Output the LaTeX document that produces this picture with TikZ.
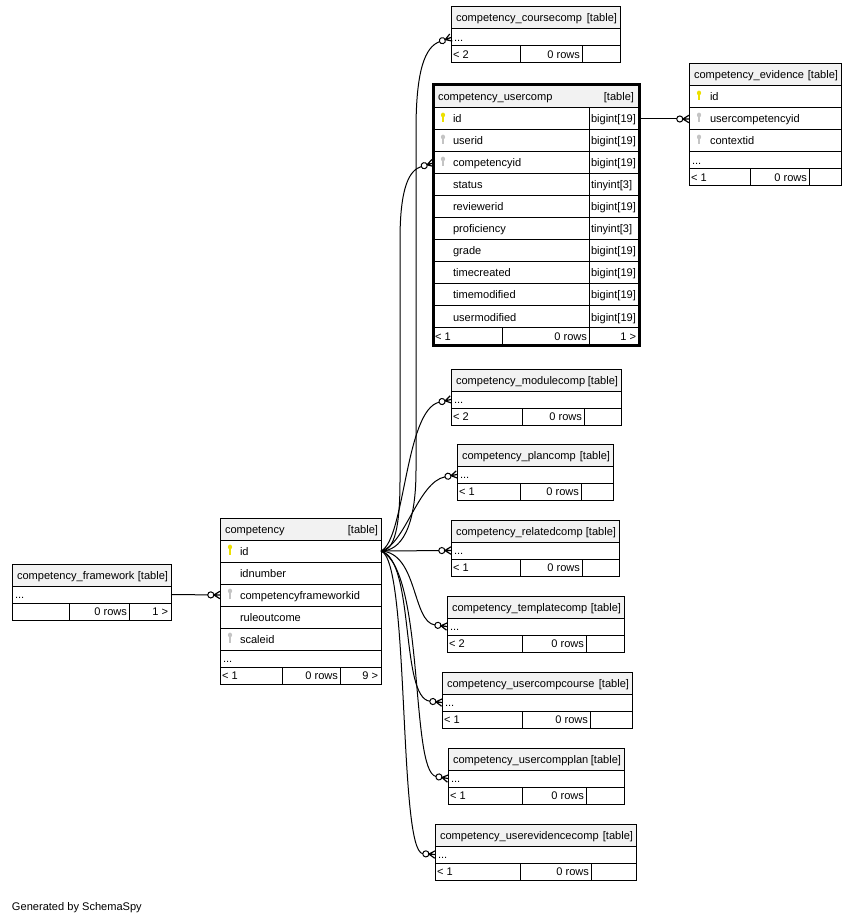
\documentclass[tikz,border=0pt]{standalone}
\usepackage{fontspec}
\setmainfont{Liberation Sans}
\usetikzlibrary{fit}
\definecolor{hdrgray}{HTML}{F2F2F2}
\definecolor{pkyellow}{HTML}{EDE000}
\definecolor{fkgray}{HTML}{C4C4C4}
\newcommand\tabfont{\fontsize{8.3}{9.9}\selectfont}

\pgfdeclarearrow{
  name=CrowO,
  setup code={
    \pgfarrowssettipend{0pt}
    \pgfarrowssetlineend{-9.1pt}
    \pgfarrowssetbackend{-9.5pt}
  },
  drawing code={
    \pgfsetdash{}{0pt}
    \pgfsetlinewidth{0.9pt}
    \pgfpathmoveto{\pgfpoint{0pt}{2.8pt}}
    \pgfpathlineto{\pgfpoint{-4.6pt}{0pt}}
    \pgfpathlineto{\pgfpoint{0pt}{-2.8pt}}
    \pgfpathmoveto{\pgfpoint{0pt}{0pt}}
    \pgfpathlineto{\pgfpoint{-4.6pt}{0pt}}
    \pgfusepathqstroke
    \pgfsetlinewidth{0.75pt}
    \pgfpathcircle{\pgfpoint{-6.9pt}{0pt}}{2.3pt}
    \pgfusepathqstroke
  },
}

\tikzset{
  cellbox/.style={draw=black, line width=0.75pt, inner sep=0pt, outer sep=0pt},
  hdr/.style={cellbox, fill=hdrgray},
  txt/.style={inner sep=0pt, outer sep=0pt, font=\tabfont, text=black, text height=6pt, text depth=0pt},
  conn/.style={draw=black, line width=0.75pt, -CrowO},
  boldframe/.style={draw=black, line width=2.25pt, inner sep=0pt, outer sep=0pt},
}

\newcommand\tcell[6]{\node[#6, fit={(#2,#3)(#4,#5)}] (#1) {};}
\newcommand\tleft[3]{\node[txt, anchor=west, xshift=#2*0.75pt] (#1-l) at (#1.west) {#3};}
\newcommand\tright[3]{\node[txt, anchor=east, xshift=-#2*0.75pt] (#1-r) at (#1.east) {#3};}
\newcommand\keyicon[3]{%
  \fill[#1] (#2,#3-4) ellipse [x radius=2.1, y radius=2.4];
  \fill[#1] (#2-0.55,#3-3) rectangle (#2+0.55,#3+3.5);}

\newcommand\smalltab[8]{%
  \tcell{#1-h}{#2}{#3}{#4}{#3+22}{hdr}
  \tcell{#1-d}{#2}{#3+22}{#4}{#3+39}{cellbox}
  \tcell{#1-f1}{#2}{#3+39}{#5}{#3+56}{cellbox}
  \tcell{#1-f2}{#5}{#3+39}{#6}{#3+56}{cellbox}
  \tcell{#1-f3}{#6}{#3+39}{#4}{#3+56}{cellbox}
  \tleft{#1-h}{5}{#7}
  \tright{#1-h}{3}{[table]}
  \tleft{#1-d}{3}{...}
  \tleft{#1-f1}{2}{#8}
  \tright{#1-f2}{2}{0 rows}
}

\newcommand\ucrow[4]{%
  \tcell{#1}{433}{#2}{589}{#2+22}{cellbox}
  \tcell{#1-ty}{589}{#2}{639}{#2+22}{cellbox}
  \tleft{#1}{20}{#3}
  \tleft{#1-ty}{2}{#4}
}

\begin{document}
\begin{tikzpicture}[x=0.75pt, y=-0.75pt]
\fill[white] (0,0) rectangle (853,919);
\useasboundingbox (0,0) rectangle (853,919);

% ---------- small tables ----------
\smalltab{cc}{451}{7}{620}{520}{582}{competency\_coursecomp}{< 2}
\smalltab{mc}{451}{369}{621}{522}{584}{competency\_modulecomp}{< 2}
\smalltab{pc}{457}{444}{613}{520}{581}{competency\_plancomp}{< 1}
\smalltab{rc}{451}{520}{619}{520}{582}{competency\_relatedcomp}{< 1}
\smalltab{tc}{447}{596}{624}{522}{586}{competency\_templatecomp}{< 2}
\smalltab{ucc}{442}{672}{632}{522}{590}{competency\_usercompcourse}{< 1}
\smalltab{ucp}{448}{748}{624}{522}{586}{competency\_usercompplan}{< 1}
\smalltab{uec}{435}{824}{636}{520}{591}{competency\_userevidencecomp}{< 1}

% ---------- competency_usercomp ----------
\tcell{uc-h}{433}{85}{639}{108}{hdr}
\tleft{uc-h}{5}{competency\_usercomp}
\tright{uc-h}{5}{[table]}
\ucrow{uc-id}{108}{id}{bigint[19]}
\ucrow{uc-uid}{130}{userid}{bigint[19]}
\ucrow{uc-cid}{152}{competencyid}{bigint[19]}
\ucrow{uc-st}{174}{status}{tinyint[3]}
\ucrow{uc-rev}{196}{reviewerid}{bigint[19]}
\ucrow{uc-pro}{218}{proficiency}{tinyint[3]}
\ucrow{uc-gr}{240}{grade}{bigint[19]}
\ucrow{uc-tc}{262}{timecreated}{bigint[19]}
\ucrow{uc-tm}{284}{timemodified}{bigint[19]}
\ucrow{uc-um}{306}{usermodified}{bigint[19]}
\tcell{uc-f1}{433}{328}{502}{345}{cellbox}
\tcell{uc-f2}{502}{328}{589}{345}{cellbox}
\tcell{uc-f3}{589}{328}{639}{345}{cellbox}
\tleft{uc-f1}{2}{< 1}
\tright{uc-f2}{2}{0 rows}
\tright{uc-f3}{3}{1 >}
\node[boldframe, fit={(433,85)(639,345)}] (uc) {};
\keyicon{pkyellow}{443}{119}
\keyicon{fkgray}{443}{141}
\keyicon{fkgray}{443}{163}

% ---------- competency_evidence ----------
\tcell{ev-h}{689}{64}{841}{86}{hdr}
\tleft{ev-h}{5}{competency\_evidence}
\tright{ev-h}{3}{[table]}
\tcell{ev-id}{689}{86}{841}{108}{cellbox}
\tleft{ev-id}{21}{id}
\tcell{ev-ucid}{689}{108}{841}{130}{cellbox}
\tleft{ev-ucid}{21}{usercompetencyid}
\tcell{ev-ctx}{689}{130}{841}{152}{cellbox}
\tleft{ev-ctx}{21}{contextid}
\tcell{ev-d}{689}{152}{841}{169}{cellbox}
\tleft{ev-d}{3}{...}
\tcell{ev-f1}{689}{169}{750}{186}{cellbox}
\tcell{ev-f2}{750}{169}{809}{186}{cellbox}
\tcell{ev-f3}{809}{169}{841}{186}{cellbox}
\tleft{ev-f1}{2}{< 1}
\tright{ev-f2}{2}{0 rows}
\keyicon{pkyellow}{699}{97}
\keyicon{fkgray}{699}{119}
\keyicon{fkgray}{699}{141}

% ---------- competency_framework ----------
\tcell{fw-h}{12}{564}{171}{586}{hdr}
\tleft{fw-h}{5}{competency\_framework}
\tright{fw-h}{3}{[table]}
\tcell{fw-d}{12}{586}{171}{603}{cellbox}
\tleft{fw-d}{3}{...}
\tcell{fw-f1}{12}{603}{69}{620}{cellbox}
\tcell{fw-f2}{69}{603}{129}{620}{cellbox}
\tcell{fw-f3}{129}{603}{171}{620}{cellbox}
\tright{fw-f2}{2}{0 rows}
\tright{fw-f3}{3}{1 >}

% ---------- competency ----------
\tcell{co-h}{220}{518}{381}{540}{hdr}
\tleft{co-h}{5}{competency}
\tright{co-h}{3}{[table]}
\tcell{co-id}{220}{540}{381}{562}{cellbox}
\tleft{co-id}{20}{id}
\tcell{co-idn}{220}{562}{381}{584}{cellbox}
\tleft{co-idn}{20}{idnumber}
\tcell{co-cfid}{220}{584}{381}{606}{cellbox}
\tleft{co-cfid}{20}{competencyframeworkid}
\tcell{co-ro}{220}{606}{381}{628}{cellbox}
\tleft{co-ro}{20}{ruleoutcome}
\tcell{co-sc}{220}{628}{381}{650}{cellbox}
\tleft{co-sc}{20}{scaleid}
\tcell{co-d}{220}{650}{381}{667}{cellbox}
\tleft{co-d}{3}{...}
\tcell{co-f1}{220}{667}{282}{684}{cellbox}
\tcell{co-f2}{282}{667}{340}{684}{cellbox}
\tcell{co-f3}{340}{667}{381}{684}{cellbox}
\tleft{co-f1}{2}{< 1}
\tright{co-f2}{2}{0 rows}
\tright{co-f3}{3}{9 >}
\keyicon{pkyellow}{230}{551}
\keyicon{fkgray}{230}{595}
\keyicon{fkgray}{230}{639}

% ---------- connectors ----------
\draw[conn] (uc-id-ty.east) -- (ev-ucid.west);
\draw[conn] (fw-d.east) -- (co-cfid.west);
\draw[conn] (co-id.east) .. controls (400,551) and (416,530) .. (416,470)
  -- (416,130) .. controls (416,70) and (425,47) .. (cc-d.west);
\draw[conn] (co-id.east) .. controls (395,551) and (400,525) .. (400,480)
  -- (400,240) .. controls (400,185) and (410,170) .. (uc-cid.west);
\draw[conn] (co-id.east) .. controls (405,540) and (405,410) .. (mc-d.west);
\draw[conn] (co-id.east) .. controls (405,545) and (418,482) .. (pc-d.west);
\draw[conn] (co-id.east) -- (rc-d.west);
\draw[conn] (co-id.east) .. controls (418,553) and (412,622) .. (tc-d.west);
\draw[conn] (co-id.east) .. controls (415,560) and (400,698) .. (ucc-d.west);
\draw[conn] (co-id.east) .. controls (425,570) and (410,772) .. (ucp-d.west);
\draw[conn] (co-id.east) .. controls (410,560) and (398,852) .. (uec-d.west);

\node[txt, anchor=west] (gen) at (12,906) {Generated by SchemaSpy};
\end{tikzpicture}
\end{document}
